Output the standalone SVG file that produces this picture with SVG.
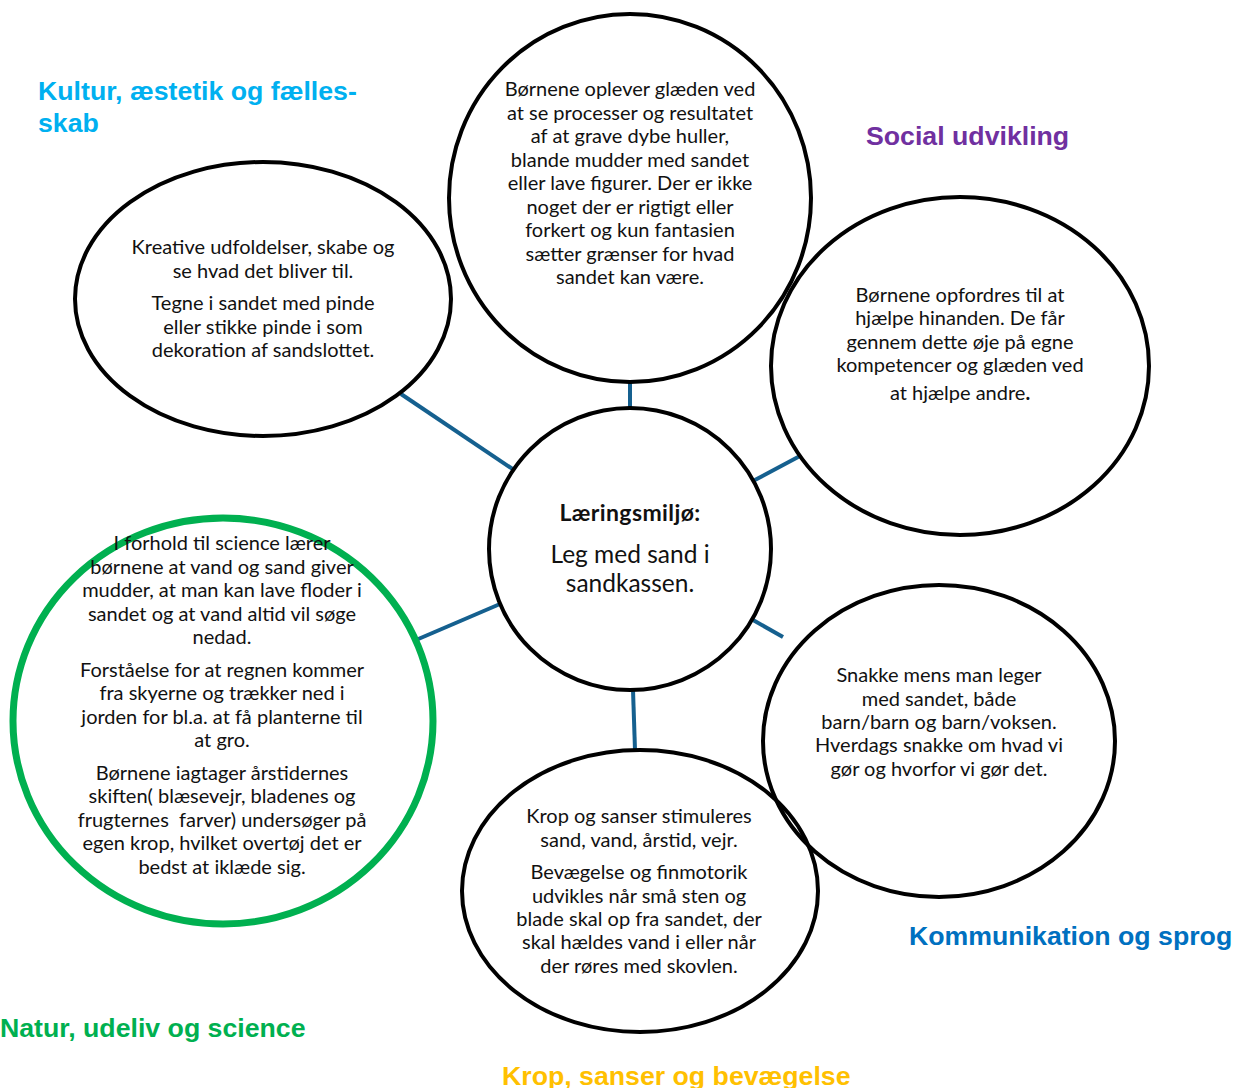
<svg xmlns="http://www.w3.org/2000/svg" width="1234" height="1088" viewBox="0 0 1234 1088">
<style>
.node{fill:none;stroke:#000;stroke-width:4}
.green{fill:none;stroke:#00b050;stroke-width:7}
.conn line{stroke:#15608f;stroke-width:4}
.t{font-family:Lato,"Open Sans","Liberation Sans",sans-serif;font-size:20px;fill:#111;text-anchor:middle}
.h{font-family:"Liberation Sans",Arial,sans-serif;font-size:26.7px;font-weight:bold}
</style>
<rect width="1234" height="1088" fill="#fff"/>
<g id="connectors" class="conn">
<line x1="630" y1="382" x2="630" y2="408"/>
<line x1="401" y1="394" x2="514" y2="470"/>
<line x1="753" y1="481" x2="800" y2="456"/>
<line x1="416" y1="640" x2="500" y2="604"/>
<line x1="753" y1="620" x2="783" y2="637"/>
<line x1="633" y1="690" x2="635" y2="750"/>
</g>
<g id="center">
<circle class="node" cx="630" cy="549" r="141"/>
<text class="t" x="630" y="521" style="font-weight:bold;font-size:23px;letter-spacing:0.4px">Læringsmiljø:</text>
<text class="t" x="630" y="563" style="font-size:24.5px">Leg med sand i</text>
<text class="t" x="630" y="592" style="font-size:24.5px">sandkassen.</text>
</g>
<g id="top">
<ellipse class="node" cx="630" cy="198" rx="181" ry="184"/>
<text class="t" x="630" y="96">Børnene oplever glæden ved</text>
<text class="t" x="630" y="120">at se processer og resultatet</text>
<text class="t" x="630" y="143">af at grave dybe huller,</text>
<text class="t" x="630" y="167">blande mudder med sandet</text>
<text class="t" x="630" y="190">eller lave figurer. Der er ikke</text>
<text class="t" x="630" y="214">noget der er rigtigt eller</text>
<text class="t" x="630" y="237">forkert og kun fantasien</text>
<text class="t" x="630" y="261">sætter grænser for hvad</text>
<text class="t" x="630" y="284">sandet kan være.</text>
</g>
<g id="kultur">
<ellipse class="node" cx="263" cy="299" rx="188" ry="137"/>
<text class="t" x="263" y="254">Kreative udfoldelser, skabe og</text>
<text class="t" x="263" y="278">se hvad det bliver til.</text>
<text class="t" x="263" y="310">Tegne i sandet med pinde</text>
<text class="t" x="263" y="334">eller stikke pinde i som</text>
<text class="t" x="263" y="357">dekoration af sandslottet.</text>
</g>
<g id="social">
<ellipse class="node" cx="960" cy="366" rx="189" ry="169"/>
<text class="t" x="960" y="302">Børnene opfordres til at</text>
<text class="t" x="960" y="325">hjælpe hinanden. De får</text>
<text class="t" x="960" y="349">gennem dette øje på egne</text>
<text class="t" x="960" y="372">kompetencer og glæden ved</text>
<text class="t" x="960" y="400">at hjælpe andre<tspan font-weight="bold">.</tspan></text>
</g>
<g id="kommunikation">
<ellipse class="node" cx="939" cy="741" rx="176" ry="156"/>
<text class="t" x="939" y="682">Snakke mens man leger</text>
<text class="t" x="939" y="706">med sandet, både</text>
<text class="t" x="939" y="729">barn/barn og barn/voksen.</text>
<text class="t" x="939" y="752">Hverdags snakke om hvad vi</text>
<text class="t" x="939" y="776">gør og hvorfor vi gør det.</text>
</g>
<g id="krop">
<ellipse class="node" cx="640" cy="891" rx="178" ry="141"/>
<text class="t" x="639" y="823">Krop og sanser stimuleres</text>
<text class="t" x="639" y="847">sand, vand, årstid, vejr.</text>
<text class="t" x="639" y="879">Bevægelse og finmotorik</text>
<text class="t" x="639" y="903">udvikles når små sten og</text>
<text class="t" x="639" y="926">blade skal op fra sandet, der</text>
<text class="t" x="639" y="949">skal hældes vand i eller når</text>
<text class="t" x="639" y="973">der røres med skovlen.</text>
</g>
<g id="natur">
<ellipse class="green" cx="223" cy="721" rx="210" ry="203"/>
<text class="t" x="222" y="550">I forhold til science lærer</text>
<text class="t" x="222" y="574">børnene at vand og sand giver</text>
<text class="t" x="222" y="597">mudder, at man kan lave floder i</text>
<text class="t" x="222" y="621">sandet og at vand altid vil søge</text>
<text class="t" x="222" y="644">nedad.</text>
<text class="t" x="222" y="677">Forståelse for at regnen kommer</text>
<text class="t" x="222" y="700">fra skyerne og trækker ned i</text>
<text class="t" x="222" y="724">jorden for bl.a. at få planterne til</text>
<text class="t" x="222" y="747">at gro.</text>
<text class="t" x="222" y="780">Børnene iagtager årstidernes</text>
<text class="t" x="222" y="803">skiften( blæsevejr, bladenes og</text>
<text class="t" x="222" y="827" xml:space="preserve">frugternes  farver) undersøger på</text>
<text class="t" x="222" y="850">egen krop, hvilket overtøj det er</text>
<text class="t" x="222" y="874">bedst at iklæde sig.</text>
</g>
<g id="headings">
<text class="h" x="38" y="100" fill="#00b0f0">Kultur, æstetik og fælles-</text>
<text class="h" x="38" y="132" fill="#00b0f0">skab</text>
<text class="h" x="866" y="145" fill="#7030a0">Social udvikling</text>
<text class="h" x="909" y="945" fill="#0070c0">Kommunikation og sprog</text>
<text class="h" x="0" y="1037" fill="#00b050">Natur, udeliv og science</text>
<text class="h" x="502" y="1085" fill="#ffc000">Krop, sanser og bevægelse</text>
</g>
</svg>
